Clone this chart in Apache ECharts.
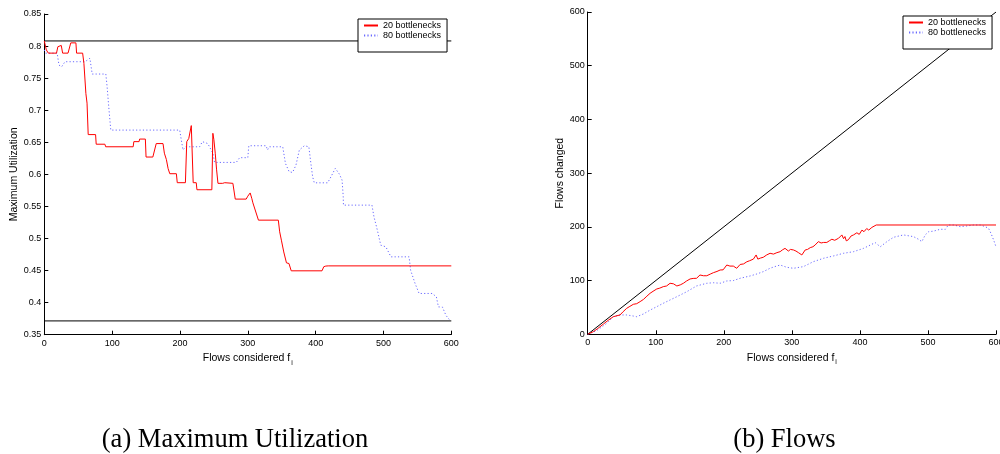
<!DOCTYPE html>
<html>
<head>
<meta charset="utf-8">
<script src="https://cdn.jsdelivr.net/npm/echarts@6/dist/echarts.min.js"></script>
<style>
  html, body { margin: 0; padding: 0; background: #fff; }
  #main { width: 1000px; height: 454px; }
</style>
</head>
<body>
<div id="main"></div>
<script>
// x ticks (flows considered) and y ticks for both panels
var xTicks = [0, 100, 200, 300, 400, 500, 600];
var utilTicks = [0.35, 0.4, 0.45, 0.5, 0.55, 0.6, 0.65, 0.7, 0.75, 0.8, 0.85];
var flowTicks = [0, 100, 200, 300, 400, 500, 600];
var seriesNames = ['20 bottlenecks', '80 bottlenecks'];

// (a) maximum utilization, 20 bottlenecks
var util20 = [[0,0.808],[3,0.794],[6,0.789],[18,0.789],[20,0.799],[25,0.801],[27,0.789],[35,0.789],
  [39,0.805],[46.6,0.805],[47.6,0.789],[56.5,0.789],[58.4,0.773],[61.3,0.726],[63,0.711],[64.7,0.662],
  [75.6,0.662],[76.5,0.647],[89.3,0.647],[90.5,0.643],[131,0.643],[132,0.651],[139.7,0.651],[140.5,0.655],
  [149,0.655],[150,0.627],[160,0.627],[165,0.648],[175,0.648],[177,0.633],[180,0.623],[182.5,0.609],
  [185,0.601],[194.7,0.601],[196,0.587],[208,0.587],[210,0.651],[213,0.656],[216.7,0.676],[218.6,0.676],
  [219.5,0.587],[224,0.587],[225,0.576],[247,0.576],[248.5,0.664],[250,0.654],[252,0.633],[254,0.607],
  [256,0.586],[263,0.586],[266,0.587],[278,0.586],[281.5,0.5614],[297.6,0.5614],[300,0.566],[303.5,0.571],
  [306,0.562],[307.5,0.5556],[310,0.5556],[315.7,0.5286],[345,0.5286],[347,0.5104],[349.5,0.4974],
  [353,0.479],[357,0.462],[360.7,0.461],[364,0.4496],[409.4,0.4496],[412,0.456],[415,0.457],
  [418.5,0.4573],[600,0.4573]];

// (a) maximum utilization, 80 bottlenecks
var util80 = [[0,0.794],[2,0.789],[19,0.789],[21.6,0.7704],[25.6,0.7678],[30.5,0.7756],[60,0.7756],
  [63.3,0.778],[67.2,0.781],[70.6,0.7564],[90.7,0.7564],[92.6,0.7366],[95,0.7054],[98,0.669],[199.6,0.669],
  [202,0.6534],[204.5,0.638],[208.4,0.643],[229,0.643],[233,0.651],[241,0.648],[246,0.638],[248.6,0.6327],
  [251,0.6186],[283,0.6186],[288,0.626],[300,0.626],[301.5,0.6446],[327,0.6446],[329,0.638],[332,0.643],
  [351.5,0.643],[355.5,0.617],[361,0.604],[366,0.603],[371,0.6144],[376,0.638],[383.4,0.6446],[390,0.643],
  [393,0.617],[395.6,0.5962],[398,0.5868],[417.7,0.5868],[422.6,0.5962],[429,0.6093],[435,0.6004],
  [439,0.591],[440.7,0.565],[441,0.552],[483,0.552],[486,0.5338],[491,0.513],[496,0.4896],[503.5,0.487],
  [511,0.4714],[537.8,0.4714],[540,0.4506],[546.6,0.4299],[552.5,0.4143],[572,0.4143],[578,0.409],
  [581,0.3934],[587,0.393],[592,0.3804],[595.6,0.3753],[598,0.373]];

// (a) bounds
var utilUpper = [[0,0.808],[600,0.808]];
var utilLower = [[0,0.3715],[600,0.3715]];

// (b) flows changed, 20 bottlenecks
var flows20 = [[0,0],[8.3,4.9],[15,11],[23,19],[30,26],[37.7,32.8],[47.5,36],[52,42],[57.3,48.4],[62,52],
  [67,55.8],[72,57],[77,60.8],[82,65],[87,71],[91.6,76.3],[96,80],[101.5,84.4],[106,86],[111,88.7],
  [116,90],[121,95],[126,94],[131,90],[136,92],[140.6,95],[145,99],[150.4,103],[155,104],[160,104.3],
  [165,110.4],[170,109],[175,109],[180,112],[184.7,114.7],[190,117],[194.6,119.7],[199,120],[204.4,129],
  [209,127],[214,127],[219,122.9],[224,130],[229,131],[233.8,135],[238,137],[243.5,140],[247.5,147.7],
  [250,140],[254,142],[258,143.4],[263,147.7],[268,150.8],[273,149.3],[278,152],[282.8,153.8],[286,157],
  [290,160],[294.9,155],[298,158],[302.4,157],[306,155],[309.7,152],[314.7,147.7],[319.6,157],[323,158],
  [327,161.3],[331,163],[334,166],[339,172.5],[343,170],[346.5,171],[351.4,171],[355,174],[358.8,177],
  [363,175],[368.6,178.8],[373.5,185],[376,178],[378,182],[380,174],[383,176],[387,183],[390.6,185],
  [395.6,189],[399,186],[403,194],[406,191],[410,196.9],[413,194],[417.6,199],[420,197],[424,203.5],
  [600,203.5]];

// (b) flows changed, 80 bottlenecks
var flows80 = [[0,0],[13,6.8],[20,13],[28,20.4],[37.7,32.8],[47.5,36],[57.3,36],[67,34],[72,32.8],
  [81.8,37.8],[91.6,45],[101.5,51.4],[111,57.7],[121,63.9],[131,70],[145.6,79.3],[160,90],[175,95],
  [184.7,96],[194.6,95],[204.4,99.3],[214,100],[224,104.3],[238.7,108.6],[248.5,112.3],[258,116.6],
  [268,123],[275,126],[282.8,129],[292.6,124.7],[302.4,122.9],[317,126],[331.8,135.3],[346.5,141.5],
  [361,145.8],[375.9,150.8],[390.6,153.8],[405.3,160],[415,166],[422.5,170.6],[430,163],[439.7,172.5],
  [449.4,180.6],[464,185],[478.8,181.8],[486,177],[491,172.5],[496,185],[501,191],[508,192],[518,195.5],
  [525.6,195.5],[530,203.5],[537.8,203.5],[547.5,200.4],[557,201.6],[567,203.5],[577,203.5],[584,200.4],
  [589,197.4],[592.6,188],[596.5,175.6],[600,163]];

// (b) every flow changed
var flowsAll = [[0,0],[600,600]];

var font = '"Liberation Sans", Arial, sans-serif';
var serif = '"Liberation Serif", "Times New Roman", serif';

function tickText(v) {
  return String(Math.round(v * 100) / 100);
}

function xAxisFor(idx) {
  return {
    type: 'value', gridIndex: idx,
    min: xTicks[0], max: xTicks[xTicks.length - 1], interval: xTicks[1] - xTicks[0],
    axisLine: { show: true, onZero: false, lineStyle: { color: '#000', width: 1 } },
    axisTick: { show: true, inside: true, length: 4, lineStyle: { color: '#000' } },
    axisLabel: { color: '#000', fontSize: 9, margin: 4, fontFamily: font, formatter: tickText },
    splitLine: { show: false },
    name: '{a|Flows considered f}{s|i}',
    nameLocation: 'middle', nameGap: 11,
    nameTextStyle: {
      rich: {
        a: { fontSize: 10.5, color: '#000', fontFamily: font },
        s: { fontSize: 7, color: '#000', fontFamily: font, padding: [9, 0, 0, 1] }
      }
    }
  };
}

function yAxisFor(idx, ticks, name, gap) {
  return {
    type: 'value', gridIndex: idx,
    min: ticks[0], max: ticks[ticks.length - 1], interval: ticks[1] - ticks[0],
    axisLine: { show: true, onZero: false, lineStyle: { color: '#000', width: 1 } },
    axisTick: { show: true, inside: true, length: 4, lineStyle: { color: '#000' } },
    axisLabel: { color: '#000', fontSize: 9, margin: 3, fontFamily: font, formatter: tickText },
    splitLine: { show: false },
    name: name, nameLocation: 'middle', nameGap: gap,
    nameTextStyle: { fontSize: 10.5, color: '#000', fontFamily: font }
  };
}

function legendAt(left, top) {
  return {
    data: seriesNames, orient: 'vertical', left: left, top: top,
    backgroundColor: '#fff', borderColor: '#000', borderWidth: 1, borderRadius: 0,
    padding: [2, 6, 12, 5], itemGap: 1, itemWidth: 14, itemHeight: 9,
    selectedMode: false,
    itemStyle: { opacity: 0 },
    textStyle: { fontSize: 9, color: '#000', fontFamily: font, lineHeight: 9 }
  };
}

function lineSeries(name, idx, data, color, dash, z) {
  return {
    type: 'line', name: name, xAxisIndex: idx, yAxisIndex: idx,
    data: data, symbol: 'none', showSymbol: false, silent: true, z: z,
    itemStyle: { color: color },
    lineStyle: { color: color, width: 1, type: dash }
  };
}

var chart = echarts.init(document.getElementById('main'));
chart.setOption({
  animation: false,
  backgroundColor: '#fff',
  grid: [
    { left: 44.3, right: 548.7, top: 14, bottom: 119.3, outerBoundsMode: 'none' },
    { left: 587.7, right: 4, top: 12, bottom: 119.7, outerBoundsMode: 'none' }
  ],
  xAxis: [xAxisFor(0), xAxisFor(1)],
  yAxis: [
    yAxisFor(0, utilTicks, 'Maximum Utilization', 24),
    yAxisFor(1, flowTicks, 'Flows changed', 16)
  ],
  legend: [legendAt(358, 19), legendAt(903, 16)],
  series: [
    lineSeries('', 0, utilUpper, '#000', 'solid', 2),
    lineSeries('', 0, utilLower, '#000', 'solid', 2),
    lineSeries(seriesNames[1], 0, util80, '#6a6aff', [1.2, 2.2], 3),
    lineSeries(seriesNames[0], 0, util20, '#ff0000', 'solid', 4),
    lineSeries('', 1, flowsAll, '#000', 'solid', 2),
    lineSeries(seriesNames[1], 1, flows80, '#6a6aff', [1.2, 2.2], 3),
    lineSeries(seriesNames[0], 1, flows20, '#ff0000', 'solid', 4)
  ],
  graphic: [
    { type: 'text', x: 235, y: 440, silent: true,
      style: { text: '(a) Maximum Utilization', align: 'center', verticalAlign: 'middle',
               font: '26.5px ' + serif, fill: '#000' } },
    { type: 'text', x: 784.5, y: 440, silent: true,
      style: { text: '(b) Flows', align: 'center', verticalAlign: 'middle',
               font: '26.5px ' + serif, fill: '#000' } }
  ]
});
</script>
</body>
</html>
